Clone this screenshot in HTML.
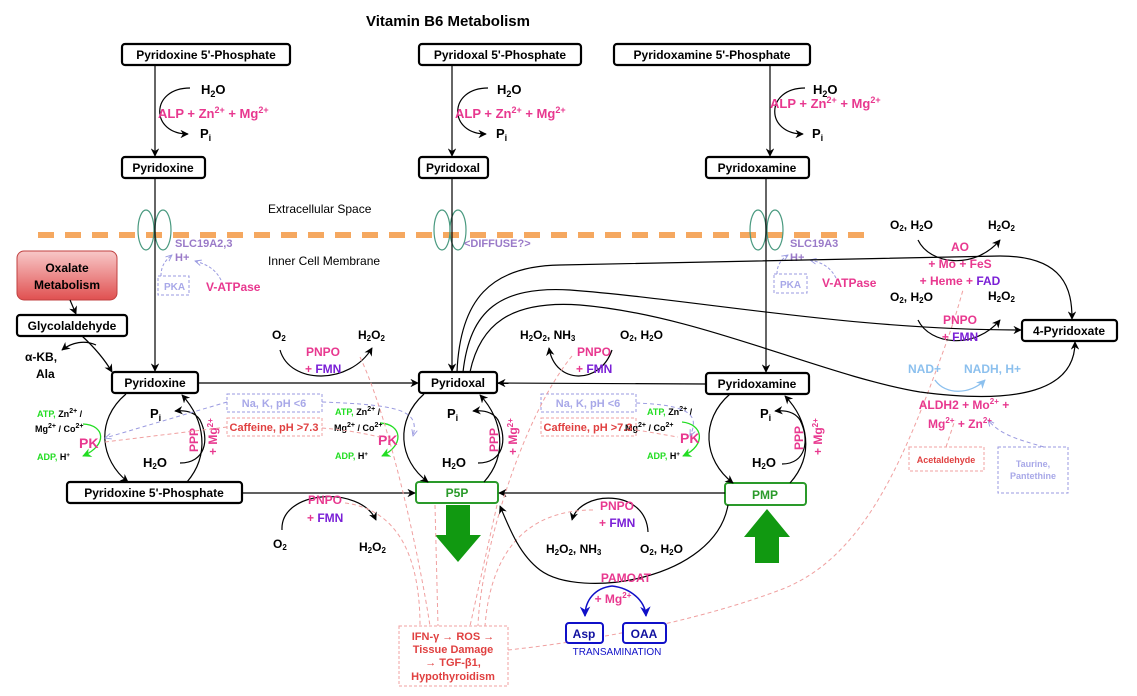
<!DOCTYPE html>
<html><head><meta charset="utf-8"><style>
html,body{margin:0;padding:0;background:#fff}
svg{display:block}
text{font-family:"Liberation Sans",sans-serif;font-weight:bold}
</style></head><body>
<svg width="1137" height="696" viewBox="0 0 1137 696" xmlns="http://www.w3.org/2000/svg">
<defs>
<marker id="a" viewBox="0 0 10 10" refX="9" refY="5" markerWidth="7" markerHeight="7" orient="auto"><path d="M0,0 L10,5 L0,10 L3,5z" fill="#000"/></marker>
<marker id="ag" viewBox="0 0 10 10" refX="9" refY="5" markerWidth="7" markerHeight="7" orient="auto"><path d="M0,0 L10,5 L0,10 L3,5z" fill="#22dd22"/></marker>
<marker id="ab" viewBox="0 0 10 10" refX="9" refY="5" markerWidth="7" markerHeight="7" orient="auto"><path d="M0,0 L10,5 L0,10 L3,5z" fill="#1010c8"/></marker>
<marker id="alb" viewBox="0 0 10 10" refX="9" refY="5" markerWidth="7" markerHeight="7" orient="auto"><path d="M0,0 L10,5 L0,10 L3,5z" fill="#8cc0ee"/></marker>
<marker id="al" viewBox="0 0 10 10" refX="9" refY="5" markerWidth="7" markerHeight="7" orient="auto"><path d="M0,1 L9,5 L0,9" fill="none" stroke="#9a9ae0" stroke-width="1.3"/></marker>
<linearGradient id="og" x1="0" y1="0" x2="0" y2="1"><stop offset="0" stop-color="#f8c8c8"/><stop offset="1" stop-color="#e05050"/></linearGradient>
</defs>

<text x="448" y="26" font-size="15" text-anchor="middle">Vitamin B6 Metabolism</text>

<g fill="#fff" stroke="#000" stroke-width="2.2">
<rect x="122" y="44" width="168" height="21" rx="3"/>
<rect x="419" y="44" width="162" height="21" rx="3"/>
<rect x="614" y="44" width="196" height="21" rx="3"/>
<rect x="122" y="157" width="83" height="21" rx="3"/>
<rect x="419" y="157" width="69" height="21" rx="3"/>
<rect x="706" y="157" width="103" height="21" rx="3"/>
<rect x="17" y="315" width="110" height="21" rx="3"/>
<rect x="112" y="372" width="86" height="21" rx="3"/>
<rect x="419" y="372" width="78" height="21" rx="3"/>
<rect x="706" y="373" width="103" height="21" rx="3"/>
<rect x="67" y="482" width="175" height="21" rx="3"/>
<rect x="1022" y="320" width="95" height="21" rx="3"/>
</g>
<g font-size="12" text-anchor="middle">
<text x="206" y="59">Pyridoxine 5'-Phosphate</text>
<text x="500" y="59">Pyridoxal 5'-Phosphate</text>
<text x="712" y="59">Pyridoxamine 5'-Phosphate</text>
<text x="163" y="172">Pyridoxine</text>
<text x="453" y="172">Pyridoxal</text>
<text x="757" y="172">Pyridoxamine</text>
<text x="72" y="330">Glycolaldehyde</text>
<text x="155" y="387">Pyridoxine</text>
<text x="458" y="387">Pyridoxal</text>
<text x="757" y="388">Pyridoxamine</text>
<text x="154" y="497">Pyridoxine 5'-Phosphate</text>
<text x="1069" y="335">4-Pyridoxate</text>
</g>
<rect x="17" y="251" width="100" height="49" rx="7" fill="url(#og)" stroke="#c04040"/>
<text x="67" y="272" font-size="12" text-anchor="middle">Oxalate</text>
<text x="67" y="289" font-size="12" text-anchor="middle">Metabolism</text>

<rect x="416" y="482" width="82" height="21" rx="3" fill="#fff" stroke="#2a9a2a" stroke-width="2"/>
<text x="457" y="497" font-size="12" text-anchor="middle" fill="#2a9a2a">P5P</text>
<rect x="725" y="483" width="81" height="22" rx="3" fill="#fff" stroke="#2a9a2a" stroke-width="2"/>
<text x="765" y="499" font-size="12" text-anchor="middle" fill="#2a9a2a">PMP</text>
<path d="M446,505 H470 V535 H481 L458,562 L435,535 H446Z" fill="#119911"/>
<path d="M767,509 L790,537 H779 V563 H755 V537 H744Z" fill="#119911"/>

<line x1="38" y1="235" x2="866" y2="235" stroke="#f5a860" stroke-width="6" stroke-dasharray="16,11"/>
<g fill="none" stroke="#4a9a80" stroke-width="1.2">
<ellipse cx="146" cy="230" rx="8" ry="20"/><ellipse cx="163" cy="230" rx="8" ry="20"/>
<ellipse cx="442" cy="230" rx="8" ry="20"/><ellipse cx="458" cy="230" rx="8" ry="20"/>
<ellipse cx="758" cy="230" rx="8" ry="20"/><ellipse cx="775" cy="230" rx="8" ry="20"/>
</g>
<text x="268" y="213" font-size="12" style="font-weight:normal">Extracellular Space</text>
<text x="268" y="265" font-size="12" style="font-weight:normal">Inner Cell Membrane</text>

<g stroke="#000" stroke-width="1.2" fill="none" marker-end="url(#a)">
<line x1="155" y1="65" x2="155" y2="156"/>
<line x1="452" y1="65" x2="452" y2="156"/>
<line x1="770" y1="65" x2="770" y2="156"/>
<line x1="155" y1="178" x2="155" y2="371"/>
<line x1="452" y1="178" x2="452" y2="371"/>
<line x1="766" y1="178" x2="766" y2="372"/>
</g>

<g stroke="#000" stroke-width="1.2" fill="none" marker-end="url(#a)">
<path d="M190,88 C150,88 150,134 188,134"/>
<path d="M488,88 C448,88 448,134 486,134"/>
<path d="M805,88 C765,88 765,134 803,134"/>
</g>
<g font-size="13">
<text x="201" y="94">H<tspan font-size="9" dy="3">2</tspan><tspan dy="-3">O</tspan></text>
<text x="497" y="94">H<tspan font-size="9" dy="3">2</tspan><tspan dy="-3">O</tspan></text>
<text x="813" y="94">H<tspan font-size="9" dy="3">2</tspan><tspan dy="-3">O</tspan></text>
<text x="200" y="138">P<tspan font-size="9" dy="3">i</tspan></text>
<text x="496" y="138">P<tspan font-size="9" dy="3">i</tspan></text>
<text x="812" y="138">P<tspan font-size="9" dy="3">i</tspan></text>
</g>
<g font-size="13" fill="#e8388f">
<text x="158" y="118">ALP + Zn<tspan font-size="9" dy="-5">2+</tspan><tspan dy="5"> + Mg</tspan><tspan font-size="9" dy="-5">2+</tspan></text>
<text x="455" y="118">ALP + Zn<tspan font-size="9" dy="-5">2+</tspan><tspan dy="5"> + Mg</tspan><tspan font-size="9" dy="-5">2+</tspan></text>
<text x="770" y="108">ALP + Zn<tspan font-size="9" dy="-5">2+</tspan><tspan dy="5"> + Mg</tspan><tspan font-size="9" dy="-5">2+</tspan></text>
</g>

<g font-size="11" fill="#9a7ac8">
<text x="175" y="247">SLC19A2,3</text><text x="175" y="261">H+</text>
<text x="464" y="247">&lt;DIFFUSE?&gt;</text>
<text x="790" y="247">SLC19A3</text><text x="790" y="261">H+</text>
</g>
<g fill="none" stroke="#9a9ae0" stroke-dasharray="3,2">
<rect x="158" y="276" width="31" height="19"/><rect x="774" y="274" width="33" height="19"/>
</g>
<text x="164" y="290" font-size="10" fill="#a8a8e8">PKA</text>
<text x="780" y="288" font-size="10" fill="#a8a8e8">PKA</text>
<g fill="none" stroke="#9a9ae0" stroke-dasharray="3,2" marker-end="url(#al)">
<path d="M161,276 C161,265 166,260 172,255"/>
<path d="M221,280 C215,268 205,264 195,261"/>
<path d="M777,274 C777,264 782,259 788,255"/>
<path d="M836,278 C830,266 820,262 810,260"/>
</g>
<text x="206" y="291" font-size="12" fill="#e8388f">V-ATPase</text>
<text x="822" y="287" font-size="12" fill="#e8388f">V-ATPase</text>

<g stroke="#000" stroke-width="1.2" fill="none" marker-end="url(#a)">
<line x1="70" y1="300" x2="76" y2="314"/>
<path d="M82,336 C95,348 105,360 112,372"/>
<path d="M96,345 C85,340 72,342 62,350"/>
</g>
<text x="25" y="361" font-size="12">α-KB,</text>
<text x="36" y="378" font-size="12">Ala</text>

<g stroke="#000" stroke-width="1.2" fill="none" marker-end="url(#a)">
<line x1="198" y1="383" x2="418" y2="383"/>
<line x1="706" y1="384" x2="498" y2="383"/>
<line x1="242" y1="493" x2="415" y2="493"/>
<line x1="725" y1="493" x2="499" y2="493"/>
</g>

<g stroke="#000" stroke-width="1.2" fill="none" marker-end="url(#a)">
<path d="M280,350 C290,385 350,385 372,348"/>
<path d="M612,350 C600,385 555,385 549,348"/>
<path d="M282,530 C280,490 360,485 376,520"/>
<path d="M648,532 C646,488 580,490 572,520"/>
</g>
<text x="272" y="339" font-size="12">O<tspan font-size="8" dy="2">2</tspan></text>
<text x="358" y="339" font-size="12">H<tspan font-size="8" dy="2">2</tspan><tspan dy="-2">O</tspan><tspan font-size="8" dy="2">2</tspan></text>
<text x="520" y="339" font-size="12">H<tspan font-size="8" dy="2">2</tspan><tspan dy="-2">O</tspan><tspan font-size="8" dy="2">2</tspan><tspan dy="-2">, NH</tspan><tspan font-size="8" dy="2">3</tspan></text>
<text x="620" y="339" font-size="12">O<tspan font-size="8" dy="2">2</tspan><tspan dy="-2">, H</tspan><tspan font-size="8" dy="2">2</tspan><tspan dy="-2">O</tspan></text>
<text x="273" y="548" font-size="12">O<tspan font-size="8" dy="2">2</tspan></text>
<text x="359" y="551" font-size="12">H<tspan font-size="8" dy="2">2</tspan><tspan dy="-2">O</tspan><tspan font-size="8" dy="2">2</tspan></text>
<text x="546" y="553" font-size="12">H<tspan font-size="8" dy="2">2</tspan><tspan dy="-2">O</tspan><tspan font-size="8" dy="2">2</tspan><tspan dy="-2">, NH</tspan><tspan font-size="8" dy="2">3</tspan></text>
<text x="640" y="553" font-size="12">O<tspan font-size="8" dy="2">2</tspan><tspan dy="-2">, H</tspan><tspan font-size="8" dy="2">2</tspan><tspan dy="-2">O</tspan></text>
<g font-size="12" fill="#e8388f">
<text x="306" y="356">PNPO</text><text x="305" y="373">+ <tspan fill="#7a1fd6">FMN</tspan></text>
<text x="577" y="356">PNPO</text><text x="576" y="373">+ <tspan fill="#7a1fd6">FMN</tspan></text>
<text x="308" y="504">PNPO</text><text x="307" y="522">+ <tspan fill="#7a1fd6">FMN</tspan></text>
<text x="600" y="510">PNPO</text><text x="599" y="527">+ <tspan fill="#7a1fd6">FMN</tspan></text>
</g>

<g stroke="#000" stroke-width="1.2" fill="none" marker-end="url(#a)">
<path d="M126,394 C95,420 100,460 128,482"/>
<path d="M187,482 C210,455 205,420 182,395"/>
<path d="M180,463 C205,463 210,440 200,420 C195,412 185,410 175,411"/>
<path d="M424,394 C395,420 398,460 428,482"/>
<path d="M484,482 C508,455 503,420 480,395"/>
<path d="M478,463 C503,463 508,440 498,420 C493,412 483,410 473,411"/>
<path d="M730,394 C700,420 703,460 733,483"/>
<path d="M790,483 C815,455 808,420 785,396"/>
<path d="M782,464 C806,464 810,440 800,420 C795,412 785,410 775,411"/>
</g>
<g stroke="#22dd22" stroke-width="1.3" fill="none" marker-end="url(#ag)">
<path d="M83,424 C105,425 108,445 83,456"/>
<path d="M380,423 C402,424 405,445 382,456"/>
<path d="M682,422 C703,424 707,445 683,456"/>
</g>
<g font-size="9">
<text x="37" y="417"><tspan fill="#22dd22">ATP,</tspan> Zn<tspan font-size="7" dy="-4">2+</tspan><tspan dy="4"> /</tspan></text>
<text x="35" y="432">Mg<tspan font-size="7" dy="-4">2+</tspan><tspan dy="4"> / Co</tspan><tspan font-size="7" dy="-4">2+</tspan></text>
<text x="37" y="460"><tspan fill="#22dd22">ADP,</tspan> H<tspan font-size="6" dy="-3">+</tspan></text>
<text x="335" y="415"><tspan fill="#22dd22">ATP,</tspan> Zn<tspan font-size="7" dy="-4">2+</tspan><tspan dy="4"> /</tspan></text>
<text x="334" y="431">Mg<tspan font-size="7" dy="-4">2+</tspan><tspan dy="4"> / Co</tspan><tspan font-size="7" dy="-4">2+</tspan></text>
<text x="335" y="459"><tspan fill="#22dd22">ADP,</tspan> H<tspan font-size="6" dy="-3">+</tspan></text>
<text x="647" y="415"><tspan fill="#22dd22">ATP,</tspan> Zn<tspan font-size="7" dy="-4">2+</tspan><tspan dy="4"> /</tspan></text>
<text x="625" y="431">Mg<tspan font-size="7" dy="-4">2+</tspan><tspan dy="4"> / Co</tspan><tspan font-size="7" dy="-4">2+</tspan></text>
<text x="647" y="459"><tspan fill="#22dd22">ADP,</tspan> H<tspan font-size="6" dy="-3">+</tspan></text>
</g>
<g font-size="14" fill="#e8388f">
<text x="79" y="448">PK</text><text x="378" y="445">PK</text><text x="680" y="443">PK</text>
</g>
<g font-size="13">
<text x="150" y="418">P<tspan font-size="9" dy="3">i</tspan></text>
<text x="447" y="418">P<tspan font-size="9" dy="3">i</tspan></text>
<text x="760" y="418">P<tspan font-size="9" dy="3">i</tspan></text>
<text x="143" y="467">H<tspan font-size="8" dy="2">2</tspan><tspan dy="-2">O</tspan></text>
<text x="442" y="467">H<tspan font-size="8" dy="2">2</tspan><tspan dy="-2">O</tspan></text>
<text x="752" y="467">H<tspan font-size="8" dy="2">2</tspan><tspan dy="-2">O</tspan></text>
</g>
<g font-size="12" fill="#e8388f">
<text transform="translate(198,452) rotate(-90)">PPP</text>
<text transform="translate(217,455) rotate(-90)">+ Mg<tspan font-size="8" dy="-4">2+</tspan></text>
<text transform="translate(498,452) rotate(-90)">PPP</text>
<text transform="translate(517,455) rotate(-90)">+ Mg<tspan font-size="8" dy="-4">2+</tspan></text>
<text transform="translate(803,450) rotate(-90)">PPP</text>
<text transform="translate(822,455) rotate(-90)">+ Mg<tspan font-size="8" dy="-4">2+</tspan></text>
</g>

<g fill="none" stroke-dasharray="3,2">
<rect x="227" y="394" width="95" height="18" stroke="#9a9ae0"/>
<rect x="227" y="418" width="95" height="18" stroke="#f0a0a0"/>
<rect x="541" y="394" width="95" height="18" stroke="#9a9ae0"/>
<rect x="541" y="418" width="95" height="18" stroke="#f0a0a0"/>
<rect x="909" y="447" width="75" height="24" stroke="#f0a0a0"/>
<rect x="998" y="447" width="70" height="46" stroke="#9a9ae0"/>
<rect x="399" y="626" width="109" height="60" stroke="#f0a0a0"/>
</g>
<g font-size="11" text-anchor="middle">
<text x="274" y="407" fill="#a8a8e8">Na, K, pH &lt;6</text>
<text x="274" y="431" fill="#e04040">Caffeine, pH &gt;7.3</text>
<text x="588" y="407" fill="#a8a8e8">Na, K, pH &lt;6</text>
<text x="588" y="431" fill="#e04040">Caffeine, pH &gt;7.3</text>
<text x="946" y="463" font-size="9" fill="#e04040">Acetaldehyde</text>
<text x="1033" y="467" font-size="9" fill="#a8a8e8">Taurine,</text>
<text x="1033" y="479" font-size="9" fill="#a8a8e8">Pantethine</text>
<text x="453" y="640" fill="#e04040">IFN-γ → ROS →</text>
<text x="453" y="653" fill="#e04040">Tissue Damage</text>
<text x="453" y="666" fill="#e04040">→ TGF-β1,</text>
<text x="453" y="680" fill="#e04040">Hypothyroidism</text>
</g>
<g fill="none" stroke="#9a9ae0" stroke-dasharray="4,3" marker-end="url(#al)">
<path d="M227,402 L105,438"/>
<path d="M322,402 C400,405 420,410 413,436"/>
<path d="M636,403 C690,405 700,415 690,436"/>
<path d="M1044,447 C1020,440 1000,435 988,420"/>
</g>
<g fill="none" stroke="#f0a0a0" stroke-dasharray="4,3">
<path d="M227,427 L105,442"/>
<path d="M322,428 C350,430 370,435 380,437"/>
<path d="M636,430 C650,432 665,435 678,437"/>
<path d="M946,447 L955,420"/>
<path d="M360,357 C390,420 420,560 430,626"/>
<path d="M572,356 C520,420 480,560 478,626"/>
<path d="M345,503 C400,510 420,560 420,626"/>
<path d="M593,510 C520,510 490,560 485,626"/>
<path d="M508,650 C600,640 700,620 780,590 C860,560 900,470 940,360 C955,320 960,300 963,290"/>
<path d="M435,505 L438,626"/>
<path d="M497,505 L470,626"/>
</g>

<g stroke="#000" stroke-width="1.2" fill="none">
<path d="M728,505 C715,580 580,600 540,570 C520,555 510,530 500,506" marker-end="url(#a)"/>
</g>
<text x="626" y="582" font-size="12" text-anchor="middle" fill="#e8388f">PAMOAT</text>
<text x="613" y="603" font-size="12" text-anchor="middle" fill="#e8388f">+ Mg<tspan font-size="8" dy="-5">2+</tspan></text>
<g stroke="#1010c8" stroke-width="1.5" fill="none" marker-end="url(#ab)">
<path d="M612,586 C595,588 585,600 585,616"/>
<path d="M612,586 C630,588 645,600 646,616"/>
</g>
<rect x="566" y="623" width="37" height="20" rx="3" fill="#fff" stroke="#1010c8" stroke-width="2"/>
<rect x="623" y="623" width="43" height="20" rx="3" fill="#fff" stroke="#1010c8" stroke-width="2"/>
<text x="584" y="638" font-size="12" text-anchor="middle" fill="#1010a0">Asp</text>
<text x="644" y="638" font-size="12" text-anchor="middle" fill="#1010a0">OAA</text>
<text x="617" y="655" font-size="10" text-anchor="middle" fill="#1010c8" style="font-weight:normal">TRANSAMINATION</text>

<g stroke="#000" stroke-width="1.2" fill="none" marker-end="url(#a)">
<path d="M457,372 C460,300 490,266 560,265 L1000,256 C1065,256 1072,290 1072,319"/>
<path d="M463,372 C470,310 500,286 570,290 C700,300 850,330 1021,330"/>
<path d="M470,372 C480,325 510,300 580,305 C700,315 820,375 920,392 C1020,405 1075,390 1075,342"/>
</g>
<g stroke="#000" stroke-width="1.2" fill="none" marker-end="url(#a)">
<path d="M918,240 C930,265 975,270 1000,240"/>
<path d="M918,320 C930,345 975,350 1000,320"/>
</g>
<g font-size="12">
<text x="890" y="229">O<tspan font-size="8" dy="2">2</tspan><tspan dy="-2">, H</tspan><tspan font-size="8" dy="2">2</tspan><tspan dy="-2">O</tspan></text>
<text x="988" y="229">H<tspan font-size="8" dy="2">2</tspan><tspan dy="-2">O</tspan><tspan font-size="8" dy="2">2</tspan></text>
<text x="890" y="301">O<tspan font-size="8" dy="2">2</tspan><tspan dy="-2">, H</tspan><tspan font-size="8" dy="2">2</tspan><tspan dy="-2">O</tspan></text>
<text x="988" y="300">H<tspan font-size="8" dy="2">2</tspan><tspan dy="-2">O</tspan><tspan font-size="8" dy="2">2</tspan></text>
</g>
<g font-size="12" fill="#e8388f" text-anchor="middle">
<text x="960" y="251">AO</text>
<text x="960" y="268">+ Mo + FeS</text>
<text x="960" y="285">+ Heme + <tspan fill="#7a1fd6">FAD</tspan></text>
<text x="960" y="324">PNPO</text>
<text x="960" y="341">+ <tspan fill="#7a1fd6">FMN</tspan></text>
<text x="964" y="409">ALDH2 + Mo<tspan font-size="8" dy="-5">2+</tspan><tspan dy="5"> +</tspan></text>
<text x="960" y="428">Mg<tspan font-size="8" dy="-5">2+</tspan><tspan dy="5"> + Zn</tspan><tspan font-size="8" dy="-5">2+</tspan></text>
</g>
<text x="908" y="373" font-size="12" fill="#8cc0ee">NAD+</text>
<text x="964" y="373" font-size="12" fill="#8cc0ee">NADH, H+</text>
<path d="M935,380 C945,395 970,395 985,380" fill="none" stroke="#8cc0ee" stroke-width="1.3" marker-end="url(#alb)"/>
</svg>
</body></html>
